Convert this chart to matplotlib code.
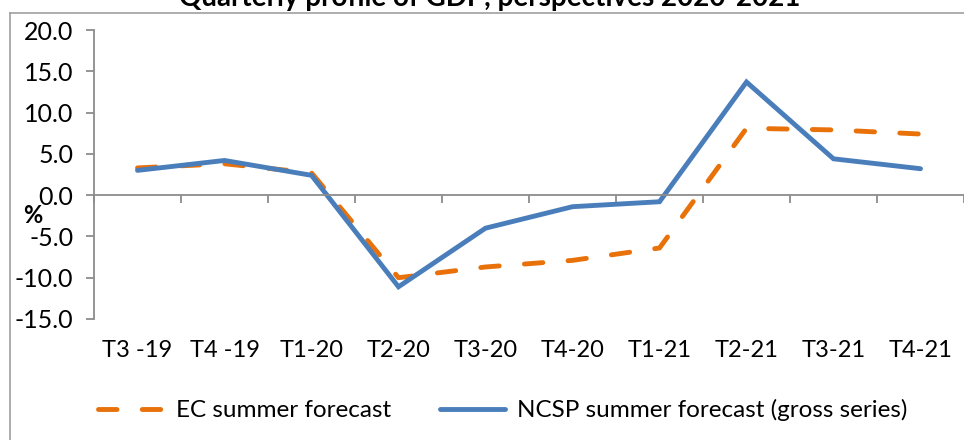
import matplotlib
matplotlib.use("Agg")
import matplotlib.pyplot as plt
from matplotlib.lines import Line2D

categories = ["T3 -19", "T4 -19", "T1-20", "T2-20", "T3-20", "T4-20", "T1-21", "T2-21", "T3-21", "T4-21"]
ec_forecast = [3.3, 3.8, 2.7, -10.0, -8.7, -7.9, -6.4, 8.1, 7.9, 7.4]
ncsp_forecast = [3.0, 4.2, 2.4, -11.1, -4.0, -1.4, -0.8, 13.7, 4.4, 3.2]
yticks = [-15.0, -10.0, -5.0, 0.0, 5.0, 10.0, 15.0, 20.0]

plt.rcParams['font.family'] = ['Lato', 'DejaVu Sans']
W, H = 964, 440
fig = plt.figure(figsize=(W/100, H/100), dpi=100)
ax = fig.add_axes([94/W, 1-319/H, 870/W, 289/H])

orange = '#E8710A'
blue = '#4A7EBB'
grey = '#8C8C8C'
x = list(range(len(categories)))
ax.plot(x, ec_forecast, color=orange, lw=3.5, dashes=(3.8, 5.2), dash_capstyle='round',
        solid_capstyle='round', label='EC summer forecast')
ax.plot(x, ncsp_forecast, color=blue, lw=3.5, solid_capstyle='round', solid_joinstyle='miter',
        label='NCSP summer forecast (gross series)')

ax.set_xlim(-0.5, len(categories)-0.5)
ax.set_ylim(-15, 20)
ax.set_yticks(yticks)
ax.set_yticklabels([f"{v:.1f}" for v in yticks], fontsize=18)
ax.tick_params(axis='y', direction='out', length=6, width=1.3, color=grey, pad=9)

for s in ['top', 'right']:
    ax.spines[s].set_visible(False)
ax.spines['left'].set_color(grey)
ax.spines['left'].set_linewidth(1.3)
ax.spines['bottom'].set_position(('data', 0))
ax.spines['bottom'].set_color(grey)
ax.spines['bottom'].set_linewidth(1.3)
ax.set_xticks([i + 0.5 for i in range(-1, len(categories))])
ax.set_xticklabels([])
ax.tick_params(axis='x', direction='out', length=6, width=1.3, color=grey)

sec = ax.secondary_xaxis('bottom')
sec.set_xticks(x)
sec.set_xticklabels(categories, fontsize=17)
sec.tick_params(length=0, pad=15)
sec.spines['bottom'].set_visible(False)

fig.text(33/W, 1-215/H, '%', fontsize=17, fontweight='bold', ha='center', va='center')

fig.text(490/W, 1-6/H, 'Quarterly profile of GDP, perspectives 2020-2021', fontsize=20,
         fontweight='bold', ha='center', va='baseline')

fig.add_artist(Line2D([10/W, 10/W], [0, 1-13/H], color='#A0A0A0', lw=1.2))
fig.add_artist(Line2D([10/W, 1], [1-13/H, 1-13/H], color='#A0A0A0', lw=1.2))

fig.legend(loc='center', bbox_to_anchor=(503/W, 1-410/H), ncol=2, frameon=False,
           fontsize=17.5, handlelength=2.7, columnspacing=2.0, handletextpad=0.5)

fig.savefig('out.png', dpi=100)
